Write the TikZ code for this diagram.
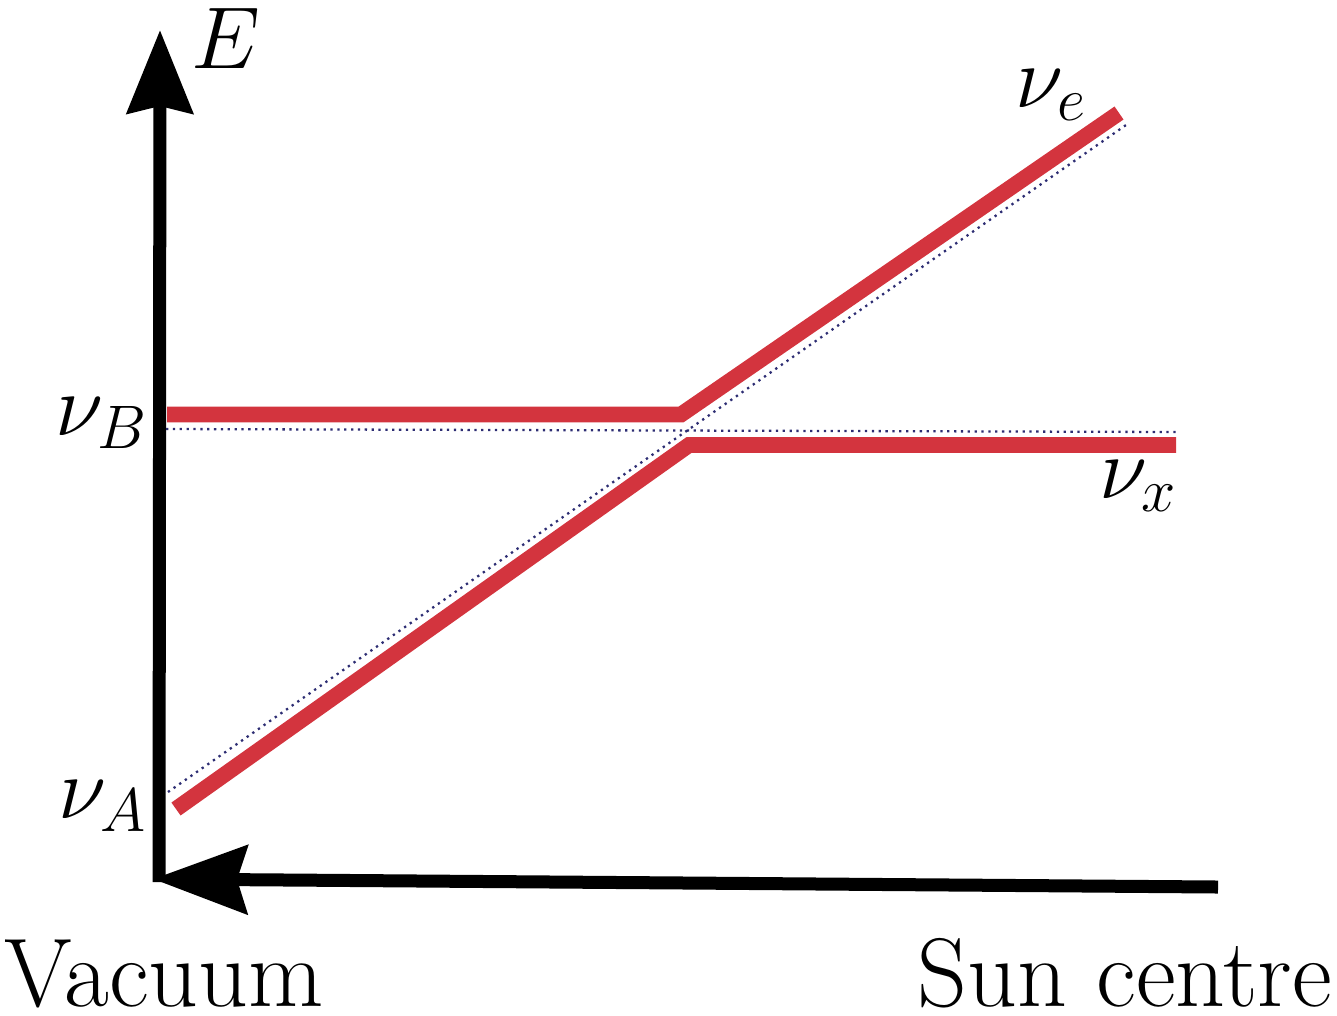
\RequirePackage{fix-cm}
\documentclass[tikz,border=0pt]{standalone}
\usetikzlibrary{arrows.meta}
\definecolor{levelred}{RGB}{211,52,62}
\definecolor{guidenavy}{RGB}{45,45,115}
\tikzset{
  axisline/.style={line width=7.4pt, black},
  level/.style={line width=9pt, levelred, line join=miter},
  guide/.style={line width=1.3pt, guidenavy, dash pattern=on 1.3pt off 2.6pt},
  lbl/.style={inner sep=0pt, font=\fontsize{50}{60}\selectfont},
  word/.style={inner sep=0pt, font=\fontsize{55.5}{66}\selectfont},
}
\begin{document}
\begin{tikzpicture}[x=0.02cm,y=-0.02cm]
\useasboundingbox (0,0) rectangle (1337,1015);
% axes
\coordinate (O) at (159,882);
\coordinate (Etop) at (160,30);
\coordinate (Rend) at (1218,887);
\coordinate (Htip) at (153,879);
\draw[axisline, -{Stealth[length=1.66cm,width=1.3cm,inset=0.14cm]}] (O) -- (Etop);
\draw[axisline, -{Stealth[length=1.88cm,width=1.36cm,inset=0.2cm]}] (Rend) -- (Htip);
% dotted guides
\coordinate (gB1) at (166,429);
\coordinate (gB2) at (1176,432);
\coordinate (gA1) at (168,792);
\coordinate (gA2) at (1126,125);
\draw[guide] (gB1) -- (gB2);
\draw[guide] (gA1) -- (gA2);
% red levels
\coordinate (uB) at (167,414.5);
\coordinate (uK) at (681,414.5);
\coordinate (uE) at (1119,113);
\coordinate (lA) at (176,809);
\coordinate (lK) at (689,445);
\coordinate (lX) at (1176,445);
\draw[level] (uB) -- (uK) -- (uE);
\draw[level] (lA) -- (lK) -- (lX);
% labels
\node[lbl, anchor=base west] (E) at (191,68) {$E$};
\node[lbl, anchor=base east] (nuB) at (148,435) {$\nu_B$};
\node[lbl, anchor=base east] (nuA) at (147,818) {$\nu_A$};
\node[lbl, anchor=base east] (nue) at (1087,107) {$\nu_e$};
\node[lbl, anchor=base east] (nux) at (1177,498) {$\nu_x$};
\node[word, anchor=base west] (vac) at (4,1006) {Vacuum};
\node[word, anchor=base east] (sun) at (1332,1006) {Sun centre};
\end{tikzpicture}
\end{document}
